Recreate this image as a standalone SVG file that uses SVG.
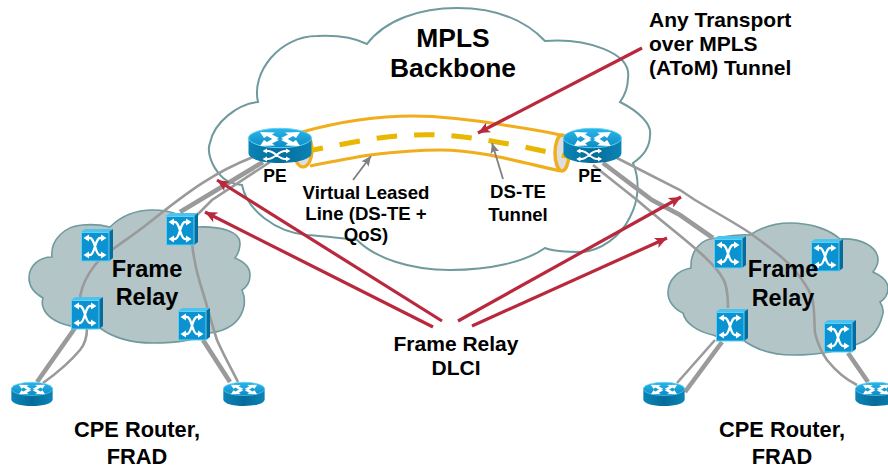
<svg xmlns="http://www.w3.org/2000/svg" width="888" height="468" viewBox="0 0 888 468">
<style>
text{font-family:"Liberation Sans",Arial,sans-serif;font-weight:bold;fill:#000;text-anchor:middle}
.s18{font-size:18.6px}.s17{font-size:17.5px}.s21{font-size:21px}.s22{font-size:21.8px}.s23{font-size:23.5px}.s26{font-size:26.4px}
.cl{stroke:#6f9a9e;stroke-width:2;stroke-linejoin:miter}
.fr{fill:#b3c5c6}.big{fill:#fff}
.g1{fill:none;stroke:#9a9a9a;stroke-width:2.6}
.g2{fill:none;stroke:#9a9a9a;stroke-width:4.6}
.red{fill:none;stroke:#b9283c;stroke-width:3.2;marker-end:url(#ar)}
.grey{fill:none;stroke:#808080;stroke-width:1.8;marker-end:url(#ag)}
.tube{fill:none;stroke:#f0ae1c;stroke-width:3.2}
.w{fill:none;stroke:#fff;stroke-width:1.8}
.wf{fill:#fff}
</style>
<defs>
<marker id="ar" markerUnits="userSpaceOnUse" markerWidth="13" markerHeight="11" refX="12" refY="5.5" orient="auto"><path d="M0,0L12,5.5L0,11L3,5.5Z" fill="#b9283c"/></marker>
<marker id="ag" markerUnits="userSpaceOnUse" markerWidth="11" markerHeight="9" refX="10" refY="4.5" orient="auto"><path d="M0,0L10,4.5L0,9L2,4.5Z" fill="#808080"/></marker>
<linearGradient id="rt" x1="0" y1="0" x2="0" y2="1"><stop offset="0" stop-color="#2cb6ea"/><stop offset="1" stop-color="#0a8cc4"/></linearGradient>
<linearGradient id="rb" x1="0" y1="0" x2="1" y2="0"><stop offset="0" stop-color="#0a84b6"/><stop offset=".5" stop-color="#066c9a"/><stop offset="1" stop-color="#0a84b6"/></linearGradient>
<g id="routerBase">
<path d="M0.5,10V25C0.5,31 14,35 32,35S63.5,31 63.5,25V10Z" fill="url(#rb)"/>
<ellipse cx="32" cy="10" rx="31.5" ry="9.7" fill="url(#rt)" stroke="#62d2f6" stroke-width="1"/>
<path class="wf" d="M12,4L27,4.5L24,6.5L31,10L26,12L19,8L16,10Z"/>
<path class="wf" d="M52,4L37,4.5L40,6.5L33,10L38,12L45,8L48,10Z"/>
<path class="wf" d="M12,18L27,17.5L24,15.5L31,12L26,10L19,14L16,12Z"/>
<path class="wf" d="M52,18L37,17.5L40,15.5L33,12L38,10L45,14L48,12Z"/>
</g>
<g id="routerFront">
<path class="w" d="M16,23H20C27,23 30,31 37,31H41M16,31H20C27,31 30,23 37,23H41"/>
<path class="wf" d="M14.5,23L19,20.5V25.5ZM14.5,31L19,28.5V33.5ZM42.5,23L38,20.5V25.5ZM42.5,31L38,28.5V33.5Z"/>
</g>
<g id="sw">
<path d="M0,3L4,0H32L28,3Z" fill="#4cc3ee"/>
<path d="M28,3L32,0V29L28,32Z" fill="#066c9e"/>
<rect x="0.5" y="3.5" width="27.5" height="28.5" fill="#0a93d0" stroke="#5fd0f5"/>
<path class="w" style="stroke-width:2.4" d="M5,9H9C14,9 14,26 19,26H23M5,26H9C14,26 14,9 19,9H23"/>
<path class="wf" d="M2.5,9L8,5.5V12.5ZM2.5,26L8,22.5V29.5ZM25.5,9L20,5.5V12.5ZM25.5,26L20,22.5V29.5Z"/>
</g>
</defs>

<g id="mpls-cloud">
<path class="cl big" d="M258,102C251,72 280,36 317,36C338,35 355,38 367,44C385,20 420,8 457,8C495,8 525,20 545,41C585,38 632,52 628,78C628,88 625,95 620,102C640,112 652,125 650,135C650,148 642,157 633,163C640,180 639,200 630,217C620,238 600,250 583,252C570,252 555,252 545,248C525,262 490,270 450,270C410,270 375,258 357,240C340,238 322,236 307,235C275,232 247,210 242,185C232,184 226,181 222,177C210,165 207,150 210,143C214,122 238,104 258,102Z"/>
</g>
<g id="frame-cloud-left">
<path class="cl fr" style="stroke-width:1.6" d="M52,257C50,240 65,226 82,225C92,224 102,225 110,227C122,215 137,210 153,210C173,210 188,218 197,227C222,226 240,232 240,243C240,249 238,254 235,258C245,262 250,268 250,275C250,282 247,287 242,290C245,297 245,304 243,310C238,325 225,331 210,333C195,341 175,343 153,343C130,343 112,337 100,328C75,330 48,323 43,307C42,304 42,301 43,298C34,293 29,286 29,278C29,265 40,257 52,257Z"/>
</g>
<g id="frame-cloud-right">
<path class="cl fr" style="stroke-width:1.6" d="M691,268C690,250 702,238 717,238C728,236 740,234 750,235C762,227 775,223 790,223C812,223 830,230 840,239C862,238 878,247 878,260C878,264 876,268 873,272C882,276 888,281 888,288C888,294 885,299 880,302C884,308 884,312 882,317C878,332 870,339 860,343C840,352 818,355 793,355C772,355 755,349 743,340C732,341 722,339 713,335C698,332 685,323 683,313C674,309 668,301 668,293C668,280 678,270 691,268Z"/>
</g>

<g id="connectors">
<path class="g1" d="M253,157C215,172 190,190 150,222C125,242 105,252 95,265C87,275 82,285 80,297"/>
<path class="g2" d="M263,162L200,200L180,212"/>
<path class="g1" d="M270,162L212,200L197,215"/>
<path class="g1" d="M192,243C194,262 196,270 200,283C207,305 212,325 217,340C225,358 232,370 238,382"/>
<path class="g2" d="M203,340L230,382"/>
<path class="g2" d="M75,328L37,382"/>
<path class="g1" d="M87,328C87,338 85,344 80,350C70,362 57,373 43,383"/>
<path class="g1" d="M617,158L680,190L695,200C715,212 735,223 750,233C770,248 785,258 797,273C808,287 811,295 812,297C815,310 814,322 815,333C818,345 822,353 827,360C835,370 845,379 857,385"/>
<path class="g2" d="M603,163L652,200L680,215L713,238"/>
<path class="g1" d="M593,165L637,200C660,220 680,235 697,250C712,263 722,275 725,283C728,292 728,300 728,308"/>
<path class="g2" d="M722,342L685,392"/>
<path class="g1" d="M715,340L677,383"/>
<path class="g2" d="M848,353L868,382"/>
</g>

<g id="tunnel">
<ellipse cx="562" cy="153" rx="7" ry="18" fill="#dedede" stroke="#f0ae1c" stroke-width="3.5"/>
<path d="M302,132C345,120 385,116 413,116C445,116 480,121 510,126C530,129 548,132 565,136" class="tube"/>
<path d="M310,166C330,162 350,158 370,155C395,152 420,150 440,150C480,150 520,162 560,171" class="tube"/>
<ellipse cx="303" cy="150" rx="9" ry="17" fill="#dedede" stroke="#f0ae1c" stroke-width="3.2"/>
<path d="M303,152C335,146 375,136 415,135C455,133 500,141 575,158" fill="none" stroke="#e8b800" stroke-width="5" stroke-dasharray="20.5 17"/>
</g>

<g id="pe-left"><use href="#routerBase" x="248" y="128"/><use href="#routerFront" x="248" y="128"/></g>
<g id="pe-right"><use href="#routerBase" transform="translate(563,128) scale(.92,1)"/><use href="#routerFront" transform="translate(563,128) scale(.92,1)"/></g>
<g id="cpe-1"><use href="#routerBase" transform="translate(11,382) scale(.656,.686)"/></g>
<g id="cpe-2"><use href="#routerBase" transform="translate(223,382) scale(.656,.686)"/></g>
<g id="cpe-3"><use href="#routerBase" transform="translate(643,382) scale(.656,.686)"/></g>
<g id="cpe-4"><use href="#routerBase" transform="translate(855,382) scale(.656,.686)"/></g>

<g id="sw-l1"><use href="#sw" x="81" y="229"/></g>
<g id="sw-l2"><use href="#sw" x="166" y="213"/></g>
<g id="sw-l3"><use href="#sw" x="71" y="297"/></g>
<g id="sw-l4"><use href="#sw" x="178" y="308"/></g>
<g id="sw-r1"><use href="#sw" x="714" y="236"/></g>
<g id="sw-r2"><use href="#sw" x="811" y="239"/></g>
<g id="sw-r3"><use href="#sw" x="716" y="309"/></g>
<g id="sw-r4"><use href="#sw" x="824" y="320"/></g>

<g id="annotation-arrows">
<path class="red" d="M642,48L478,133"/>
<path class="red" d="M442,321L217,180"/>
<path class="red" d="M433,327L205,212"/>
<path class="red" d="M458,321L681,197"/>
<path class="red" d="M472,326L667,238"/>
<path class="grey" d="M353,180L371,156"/>
<path class="grey" d="M503,179L492,143"/>
</g>

<g id="labels">
<text class="s26" x="453" y="47">MPLS</text>
<text class="s26" x="453" y="77">Backbone</text>
<text class="s21" x="649" y="27" style="text-anchor:start">Any Transport</text>
<text class="s21" x="649" y="51" style="text-anchor:start">over MPLS</text>
<text class="s21" x="649" y="75" style="text-anchor:start">(AToM) Tunnel</text>
<text class="s17" x="275" y="182">PE</text>
<text class="s17" x="590" y="182">PE</text>
<text class="s18" x="366" y="199">Virtual Leased</text>
<text class="s18" x="366" y="220">Line (DS-TE +</text>
<text class="s18" x="366" y="241">QoS)</text>
<text class="s18" x="518" y="198">DS-TE</text>
<text class="s18" x="518" y="221">Tunnel</text>
<text class="s23" x="147" y="277">Frame</text>
<text class="s23" x="147" y="305">Relay</text>
<text class="s23" x="783" y="277">Frame</text>
<text class="s23" x="783" y="306">Relay</text>
<text class="s21" x="456" y="351">Frame Relay</text>
<text class="s21" x="456" y="375">DLCI</text>
<text class="s22" x="137" y="437">CPE Router,</text>
<text class="s22" x="137" y="464">FRAD</text>
<text class="s22" x="782" y="437">CPE Router,</text>
<text class="s22" x="782" y="464">FRAD</text>
</g>
</svg>
